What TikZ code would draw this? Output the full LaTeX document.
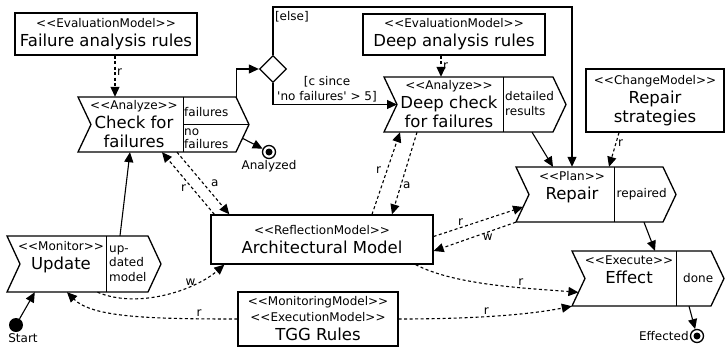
\documentclass[tikz,border=0pt]{standalone}
\usepackage{fontspec}
\setmainfont{DejaVu Sans}[Ligatures=TeXOff]
\usetikzlibrary{shapes.geometric}
\usetikzlibrary{arrows.meta}
\usetikzlibrary{positioning}
\usetikzlibrary{calc}
\usetikzlibrary{fit}

\newcommand{\stsz}{\fontsize{12}{14}\selectfont}
\newcommand{\mainsz}{\fontsize{16.5}{19}\selectfont}
\newcommand{\stereo}[1]{{\stsz <<#1>>}}
% name, left, divider, right, top, bottom
\newcommand{\actshape}[6]{%
  \draw[outline] (#2,#5) -- (#4,#5) -- (#4+13,#5/2+#6/2) -- (#4,#6) -- (#2,#6) -- (#2+13,#5/2+#6/2) -- cycle;
  \draw[divider] (#3,#5) -- (#3,#6);
  \coordinate (#1-notch) at (#2+13,#5/2+#6/2);
  \coordinate (#1-div) at (#3,#5/2+#6/2);
  \coordinate (#1-tip) at (#4+13,#5/2+#6/2);
  \node[fit={(#2,#5) (#4,#6)}, inner sep=0pt] (#1) {};
}

\begin{document}
\begin{tikzpicture}[x=1pt, y=-1pt, font=\stsz,
  outline/.style={line width=1.3pt},
  divider/.style={line width=0.9pt},
  model/.style={draw, line width=1.3pt, align=center, font=\mainsz, inner sep=0pt},
  actname/.style={align=center, font=\mainsz, inner sep=0pt},
  outpin/.style={align=left, inner sep=0pt, anchor=west, font=\fontsize{12}{14.5}\selectfont},
  flow/.style={line width=1.1pt, -{Triangle[length=10pt, width=9pt]}},
  dep/.style={flow, dash pattern=on 3pt off 2.5pt},
  lbl/.style={inner sep=1.5pt, font=\fontsize{12}{15}\selectfont},
  every label/.style={inner sep=1pt, font=\stsz},
  startdot/.style={circle, fill, minimum size=14pt, inner sep=0pt},
  enddot/.style={circle, draw, line width=1.3pt, minimum size=13pt, inner sep=0pt,
    path picture={\fill (path picture bounding box.center) circle (3.5pt);}},
  decision/.style={diamond, draw, line width=1.3pt, minimum width=27pt, minimum height=27pt, inner sep=0pt}]
\useasboundingbox (0,0) rectangle (725,348);

% models
\node[model, minimum width=182pt, minimum height=42pt] (far) at (106,34) {\stereo{EvaluationModel}\\Failure analysis rules};
\node[model, minimum width=182pt, minimum height=41pt] (dar) at (454,34.5) {\stereo{EvaluationModel}\\Deep analysis rules};
\node[model, minimum width=138pt, minimum height=63pt] (rs) at (655,100.5) {\stereo{ChangeModel}\\Repair\\strategies};
\node[model, minimum width=222pt, minimum height=49pt] (arch) at (322,239.5) {\stereo{ReflectionModel}\\Architectural Model};
\node[model, minimum width=160pt, minimum height=54pt] (tgg) at (318,319) {\stereo{MonitoringModel}\\[-3pt]\stereo{ExecutionModel}\\TGG Rules};

% actions
\actshape{check}{78}{183}{236}{97}{152}
\actshape{deep}{384}{503}{553}{77}{132}
\actshape{repair}{516}{614}{663}{167}{222}
\actshape{effect}{572}{676}{711}{251}{306}
\actshape{update}{7}{106}{148}{236}{292}
\draw[divider] (check-div) -- (check-tip);

\node[actname] (check-name) at (134,124) {\stereo{Analyze}\\Check for\\failures};
\node[outpin] (check-out1) at (184,112) {failures};
\node[outpin, font=\fontsize{12}{13}\selectfont] (check-out2) at (184,138.5) {no\\failures};
\node[actname] (deep-name) at (449,104) {\stereo{Analyze}\\Deep check\\for failures};
\node[outpin] (deep-out) at (505,103.5) {detailed\\results};
\node[actname] (repair-name) at (572,187) {\stereo{Plan}\\Repair};
\node[outpin] (repair-out) at (616.5,194) {repaired};
\node[actname] (effect-name) at (629,270) {\stereo{Execute}\\Effect};
\node[outpin] (effect-out) at (683,278) {done};
\node[actname] (update-name) at (61,257) {\stereo{Monitor}\\Update};
\node[outpin] (update-out) at (109,263.5) {up-\\dated\\model};

% control nodes
\node[decision] (dec) at (273,69) {};
\node[startdot, label={[xshift=7pt]below:Start}] (start) at (16,325) {};
\node[enddot, label=below:Analyzed] (analyzed) at (269,152) {};
\node[enddot, label=left:Effected] (effected) at (697,336) {};
\coordinate (elsecorner) at (572,7);

% control flow
\draw[flow] (start) -- ([xshift=28pt]update.south west);
\draw[flow] ([xshift=42.5pt]update.north) -- ([xshift=-27pt]check.south);
\draw[flow] ($(check-tip)!0.5!(check.south east)$) -- (analyzed);
\draw[flow] (check.north east) |- (dec.west);
\draw[flow] (dec.north) |- node[lbl, pos=0.4, right] {[else]} (elsecorner) -- ([xshift=-17.5pt]repair.north);
\draw[flow] (dec.south) |- node[lbl, pos=0.75, above, align=center, xshift=-8pt] {[c since\\'no failures' > 5]} (deep-notch);
\draw[flow] ([xshift=63.5pt]deep.south) -- ([xshift=-36.5pt]repair.north);
\draw[flow] ([xshift=54.5pt]repair.south) -- ([xshift=13.5pt]effect.north);
\draw[flow] ([xshift=47.5pt]effect.south) -- (effected);

% model access
\draw[dep] ([xshift=9pt]far.south) -- ([xshift=9pt]far.south |- check.north) node[lbl, right, pos=0.4] {r};
\draw[dep] ([xshift=-13pt]dar.south) -- ([xshift=-13pt]dar.south |- deep.north) node[lbl, right, pos=0.5] {r};
\draw[dep] ([xshift=-36pt]rs.south) -- ([xshift=19.5pt]repair.north) node[lbl, right, pos=0.3] {r};
\draw[dep] ([xshift=20pt]check.south) -- ([xshift=19pt]arch.north west) node[lbl, pos=0.5, right, xshift=6pt] {a};
\draw[dep] ([xshift=4pt]arch.north west) -- ([xshift=5pt]check.south) node[lbl, pos=0.5, left, yshift=-5pt] {r};
\draw[dep] ([xshift=50pt]arch.north) -- ([xshift=-68.5pt]deep.south) node[lbl, pos=0.54, left, xshift=-4pt] {r};
\draw[dep] ([xshift=-51.5pt]deep.south) -- ([xshift=70pt]arch.north) node[lbl, pos=0.64, right] {a};
\draw[dep] ([yshift=3pt]arch.east) -- ($(repair-notch)!0.45!(repair.south west)$) node[lbl, pos=0.3, above] {r};
\draw[dep] (repair.south west) -- ([yshift=-11.5pt]arch.east) node[lbl, pos=0.34, below] {w};
\draw[dep] ([xshift=20pt]update.south) .. controls +(40,17) and +(-30,26) .. ([xshift=14pt]arch.south west) node[lbl, pos=0.75, left] {w};
\draw[dep] (tgg.west) .. controls +(-90,0) and +(25,25) .. ([xshift=-10.5pt]update.south) node[lbl, pos=0.15, above] {r};
\draw[dep] (tgg.east) .. controls +(80,0) and +(-40,8) .. (effect.south west) node[lbl, pos=0.42, above] {r};
\draw[dep] ([xshift=-18pt]arch.south east) .. controls +(40,21) and +(-48,-4) .. ($(effect-notch)!0.5!(effect.south west)$) node[lbl, pos=0.65, above] {r};
\end{tikzpicture}
\end{document}
